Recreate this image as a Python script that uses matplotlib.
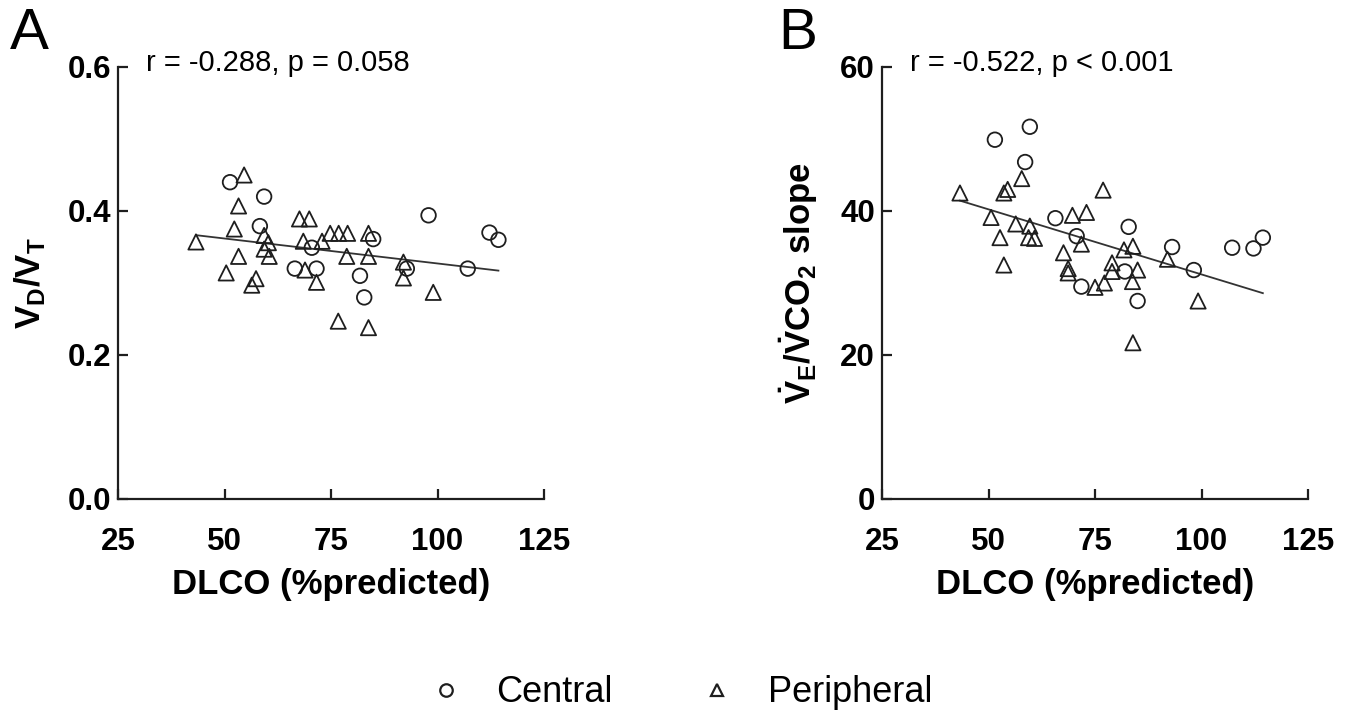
import numpy as np
import matplotlib
matplotlib.use("Agg")
import matplotlib.pyplot as plt
from matplotlib.lines import Line2D

plt.rcParams['font.family'] = ['Liberation Sans', 'DejaVu Sans']
plt.rcParams['mathtext.fontset'] = 'custom'
plt.rcParams['mathtext.rm'] = 'Liberation Sans:bold'
plt.rcParams['mathtext.bf'] = 'Liberation Sans:bold'
plt.rcParams['mathtext.it'] = 'Liberation Sans:bold'

# --- Panel A: VD/VT vs DLCO ---
a_central_x = [51.3, 59.3, 58.3, 70.5, 84.9, 66.5, 71.6, 81.8, 82.8, 97.9, 92.8, 107.1, 112.2, 114.3]
a_central_y = [0.440, 0.420, 0.379, 0.349, 0.361, 0.320, 0.320, 0.310, 0.280, 0.394, 0.320, 0.320, 0.370, 0.360]
a_periph_x = [54.6, 53.3, 52.3, 43.3, 53.3, 50.4, 57.4, 56.4, 59.3, 60.3, 59.3, 60.5, 67.6, 69.9, 68.5,
              68.9, 71.6, 72.9, 74.8, 76.8, 78.9, 78.7, 83.8, 83.8, 76.7, 83.8, 92.0, 92.0, 99.0]
a_periph_y = [0.450, 0.407, 0.375, 0.357, 0.337, 0.314, 0.306, 0.297, 0.366, 0.356, 0.347, 0.337, 0.389, 0.389, 0.358,
              0.318, 0.301, 0.358, 0.369, 0.369, 0.369, 0.337, 0.369, 0.337, 0.247, 0.238, 0.329, 0.307, 0.287]

# --- Panel B: VE/VCO2 slope vs DLCO ---
b_central_x = [51.5, 59.7, 58.6, 65.7, 70.7, 71.8, 82.9, 82.0, 85.0, 93.1, 98.2, 107.2, 112.2, 114.4]
b_central_y = [49.9, 51.7, 46.8, 39.0, 36.5, 29.5, 37.8, 31.6, 27.5, 35.0, 31.8, 34.9, 34.8, 36.3]
b_periph_x = [43.3, 50.6, 52.7, 53.6, 53.6, 54.5, 57.8, 56.4, 59.7, 59.4, 60.8, 69.7, 73.0, 76.9, 71.8,
              67.6, 68.7, 68.7, 75.0, 77.2, 79.0, 79.0, 81.8, 83.9, 85.0, 83.8, 83.9, 92.0, 99.2]
b_periph_y = [42.5, 39.1, 36.3, 32.5, 42.5, 43.0, 44.5, 38.2, 37.9, 36.3, 36.2, 39.4, 39.8, 42.9, 35.4,
              34.2, 32.0, 31.4, 29.4, 30.0, 32.8, 31.6, 34.6, 35.1, 31.8, 30.2, 21.7, 33.3, 27.5]

x_ticks = [25, 50, 75, 100, 125]
a_yticks = [0.0, 0.2, 0.4, 0.6]
b_yticks = [0, 20, 40, 60]

fig = plt.figure(figsize=(13.6, 7.17), dpi=100)
ax_a = fig.add_axes([118 / 1360, 1 - 499 / 717, 426 / 1360, 432 / 717])
ax_b = fig.add_axes([882 / 1360, 1 - 499 / 717, 426 / 1360, 432 / 717])

ink = '#1e1e1e'


def draw_panel(ax, cx, cy, px, py, yticks, yfmt, note, ylabel, label_x):
    ax.scatter(cx, cy, s=110, marker='o', facecolors='none', edgecolors=ink, linewidths=1.3, clip_on=False, zorder=3)
    ax.scatter(px, py, s=120, marker='^', facecolors='none', edgecolors=ink, linewidths=1.3, clip_on=False, zorder=3)
    allx = np.array(cx + px)
    ally = np.array(cy + py)
    k, b = np.polyfit(allx, ally, 1)
    xs = np.array([allx.min(), allx.max()])
    ax.plot(xs, k * xs + b, color='#333333', lw=1.3, zorder=2)

    ax.set_xlim(25, 125)
    ax.set_ylim(yticks[0], yticks[-1])
    ax.set_xticks(x_ticks)
    ax.set_yticks(yticks)
    ax.set_yticklabels([yfmt(v) for v in yticks])
    for side in ['top', 'right']:
        ax.spines[side].set_visible(False)
    for side in ['left', 'bottom']:
        ax.spines[side].set_linewidth(1.6)
        ax.spines[side].set_color(ink)
    ax.tick_params(direction='in', length=7, width=1.6, color=ink, labelsize=22.5, pad=5)
    for lab in ax.get_xticklabels() + ax.get_yticklabels():
        lab.set_fontweight('bold')
    ax.tick_params(axis='x', pad=20)
    ax.set_xlabel('DLCO (%predicted)', fontsize=25, fontweight='bold', labelpad=8)
    ax.set_ylabel(ylabel, fontsize=25, fontweight='bold')
    ax.yaxis.set_label_coords(label_x, 0.5)
    ax.text(0.065, 1.01, note, transform=ax.transAxes, fontsize=21, va='center', ha='left')


draw_panel(ax_a, a_central_x, a_central_y, a_periph_x, a_periph_y, a_yticks,
           lambda v: f'{v:.1f}', 'r = -0.288, p = 0.058',
           r'$\mathbf{V}_\mathbf{D}\mathbf{/V}_\mathbf{T}$', -0.165)
draw_panel(ax_b, b_central_x, b_central_y, b_periph_x, b_periph_y, b_yticks,
           lambda v: f'{v:d}', 'r = -0.522, p < 0.001',
           r'$\dot{\mathbf{V}}_\mathbf{E}\mathbf{/}\dot{\mathbf{V}}\mathbf{CO}_\mathbf{2}$ slope', -0.145)

fig.text(10 / 1360, 1 - 34 / 717, 'A', fontsize=42, va='center', ha='left')
fig.text(778 / 1360, 1 - 34 / 717, 'B', fontsize=42, va='center', ha='left')

handles = [
    Line2D([], [], marker='o', ls='none', mfc='none', mec=ink, mew=1.6, ms=9),
    Line2D([], [], marker='^', ls='none', mfc='none', mec=ink, mew=1.6, ms=9),
]
fig.legend(handles, ['Central', 'Peripheral'], loc='center', bbox_to_anchor=(0.5, 1 - 693 / 717),
           ncol=2, frameon=False, fontsize=26, handlelength=1.0, handletextpad=0.9, columnspacing=2.4)

fig.savefig('out.png', dpi=100)
